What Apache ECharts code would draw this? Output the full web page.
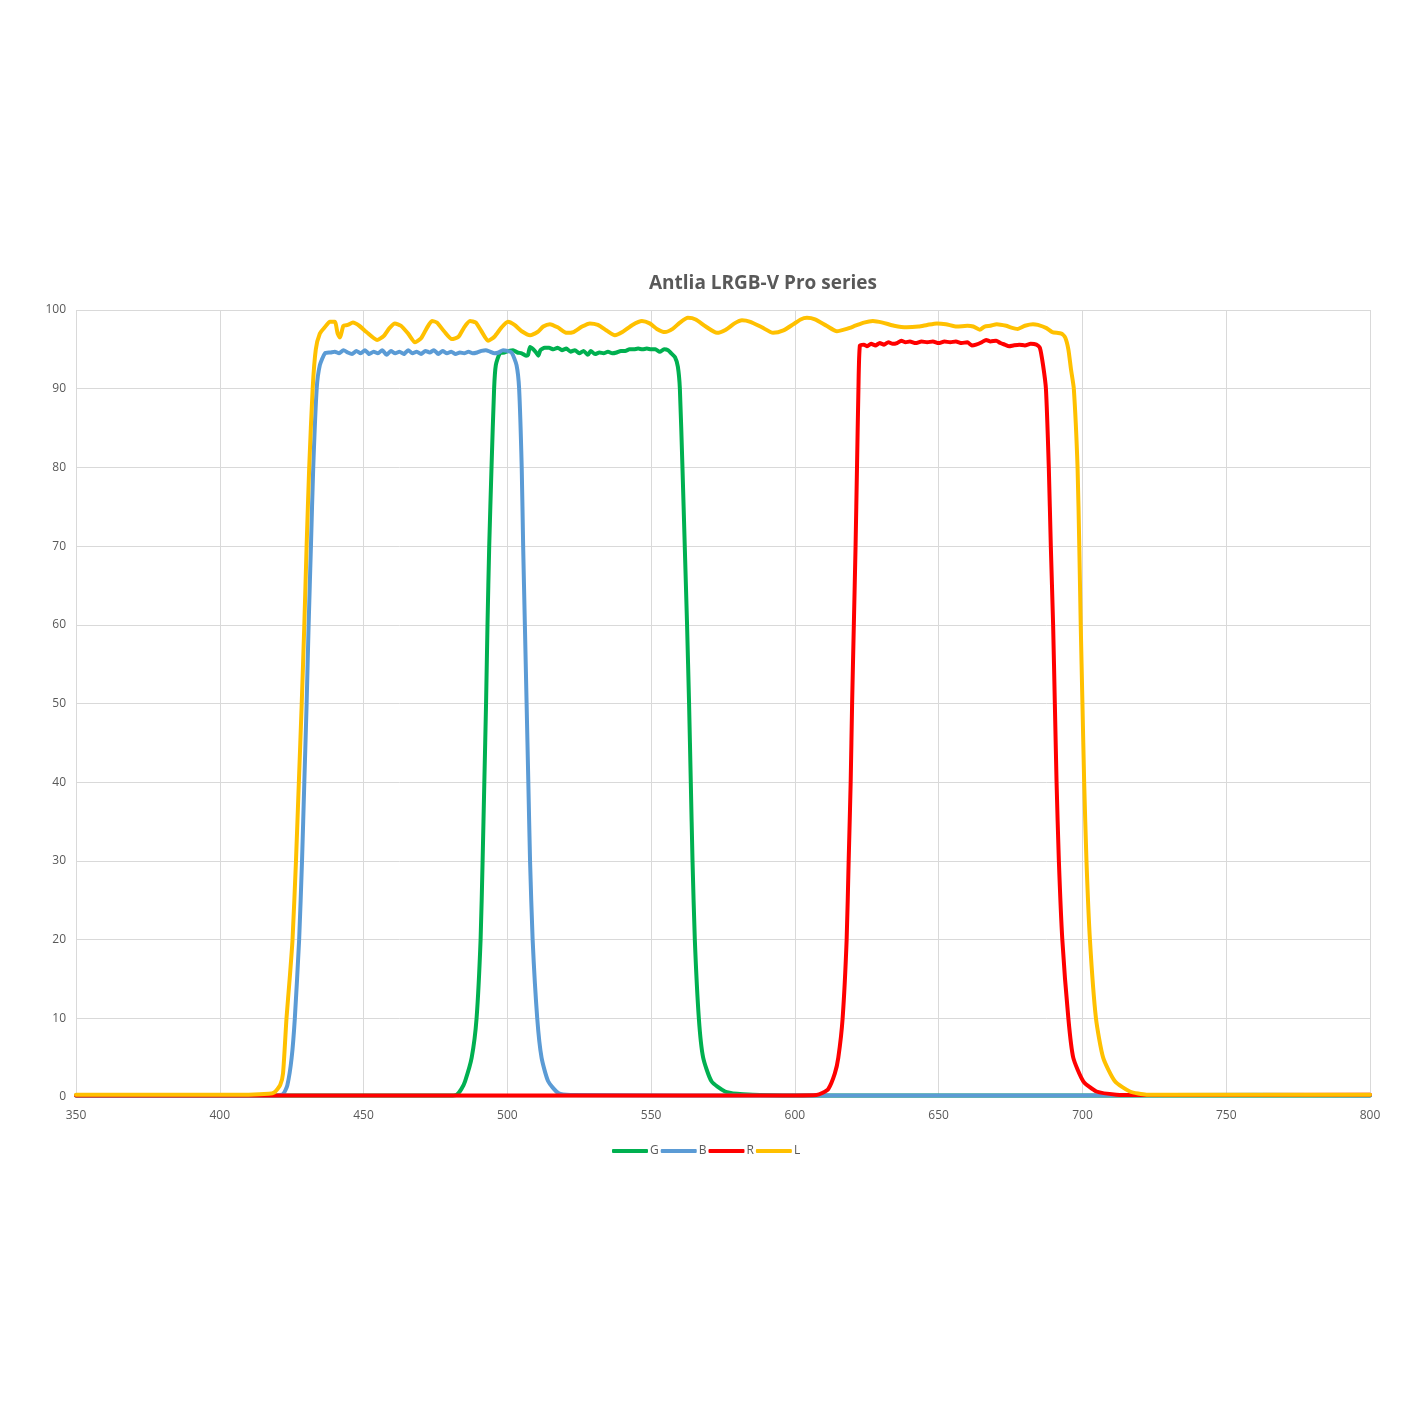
<!DOCTYPE html>
<html>
<head>
<meta charset="utf-8">
<script src="https://cdn.jsdelivr.net/npm/echarts@6/dist/echarts.min.js"></script>
<style>html,body{margin:0;padding:0;background:#fff}#c{width:1422px;height:1422px}</style>
</head>
<body>
<div id="c"></div>
<script>
const seriesNames = ['G', 'B', 'R', 'L'];
const xTicks = [350, 400, 450, 500, 550, 600, 650, 700, 750, 800];
const yTicks = [0, 10, 20, 30, 40, 50, 60, 70, 80, 90, 100];

// G (green)
const gNm = [350, 480, 482.4, 484, 485.3, 487.6, 489.3, 490.7, 491.4, 492, 492.6, 493.1, 493.7, 494.5, 495.4, 496, 497.4,
  499, 500.5, 502, 503.5, 505, 506.5, 507.2, 507.9, 509, 510, 510.8, 511.5, 513, 514.5, 516, 517.5, 519, 520.5, 522, 523.5,
  525, 526.5, 528, 529, 530.5, 532, 533.5, 535, 536.5, 538, 539.5, 541, 542.5, 544, 545.5, 547, 548.5, 550, 551.5, 553,
  554.5, 555.9, 557, 558.3, 559.3, 560, 560.9, 561.7, 562.5, 563.2, 563.8, 564.4, 565.2, 566.6, 568.1, 571, 575.7, 580,
  585.4, 600, 800];
const gVal = [0.2, 0.2, 0.3, 1, 2, 5, 10, 20, 30, 40, 50, 60, 70, 80, 90, 93, 94.5,
  94.6, 94.8, 94.9, 94.6, 94.5, 94.2, 94.3, 95.3, 95.0, 94.6, 94.2, 94.9, 95.2, 95.2, 95.0, 95.2, 94.9, 95.1, 94.7, 94.9,
  94.5, 94.8, 94.3, 94.8, 94.4, 94.6, 94.5, 94.7, 94.5, 94.6, 94.8, 94.8, 95.0, 95.0, 95.1, 95.0, 95.1, 95.0, 95.0, 94.7,
  95.0, 94.9, 94.5, 94.0, 92.8, 90, 80, 70, 60, 50, 40, 30, 20, 10, 5, 2, 0.7, 0.4,
  0.3, 0.2, 0.2];

// B (blue)
const bNm = [350, 420, 422.1, 423.5, 425, 426.1, 427.6, 428.6, 429.4, 430.2, 430.9, 431.7, 432.5, 433.7, 434.8, 436.6, 438.5,
  440, 441.5, 443, 444.5, 446, 447.5, 449, 450.5, 452, 453.5, 455, 456.5, 458, 459.5, 461, 462.5, 464, 465.5, 467, 468.5,
  470, 471.5, 473, 474.5, 476, 477.5, 479, 480.5, 482, 483.5, 485, 486.5, 488, 489.5, 491, 492.5, 494, 495.5, 497, 498.5,
  500, 501.5, 503.2, 504.1, 505, 505.5, 506.1, 506.7, 507.3, 507.9, 508.8, 510.4, 511.9, 514.2, 517.7, 522, 600, 700, 760, 800];
const bVal = [0.2, 0.2, 0.4, 1.5, 5, 10, 20, 30, 40, 50, 60, 70, 80, 90, 93, 94.5, 94.6,
  94.7, 94.5, 94.9, 94.6, 94.4, 94.8, 94.5, 94.9, 94.4, 94.7, 94.5, 94.9, 94.3, 94.8, 94.5, 94.7, 94.4, 94.9, 94.5, 94.7,
  94.4, 94.8, 94.6, 94.9, 94.4, 94.8, 94.5, 94.7, 94.4, 94.6, 94.5, 94.7, 94.5, 94.6, 94.8, 94.9, 94.7, 94.5, 94.6, 94.9,
  94.8, 94.6, 93, 90, 80, 70, 60, 50, 40, 30, 20, 10, 5, 2, 0.5, 0.25, 0.2, 0.2, 0.3, 0.2];

// R (red)
const rNm = [350, 600, 607.5, 609.5, 611.6, 613.9, 615.1, 616.6, 618, 618.7, 619.4, 619.9, 620.5, 621.1, 621.6, 622.1, 622.6,
  624, 625, 626.5, 628, 629.5, 631, 632.5, 634, 635.5, 637, 638.5, 640, 642, 644, 646, 648, 650, 652, 654, 656, 658, 660,
  661.5, 663, 665, 666.5, 668, 670, 671.5, 673, 674.5, 676, 678, 680, 682, 684, 685.2, 686.3, 687.3, 688.3, 689, 689.8,
  690.4, 691, 691.8, 693, 695.1, 696.8, 700.3, 704.9, 711.8, 720, 800];
const rVal = [0.2, 0.2, 0.25, 0.5, 1, 3, 5, 10, 20, 30, 40, 50, 60, 70, 80, 90, 95.5,
  95.6, 95.4, 95.7, 95.5, 95.8, 95.6, 95.9, 95.7, 95.8, 96.1, 95.9, 96.0, 95.8, 96.0, 95.9, 96.0, 95.8, 96.0, 95.9, 96.0, 95.8, 95.9,
  95.5, 95.6, 95.9, 96.2, 96.0, 96.1, 95.8, 95.6, 95.4, 95.5, 95.6, 95.5, 95.7, 95.6, 95.2, 93, 90, 80, 70, 60,
  50, 40, 30, 20, 10, 5, 2, 0.7, 0.3, 0.25, 0.3];

// L (yellow)
const lNm = [350, 380, 410, 417, 419, 421, 422, 423.2, 424.3, 425.3, 426.5, 427.5, 428.5, 429.4, 430.2, 431.1, 432.3, 433.4,
  434.8, 436.5, 438.3, 440, 441, 441.8, 443, 444.5, 446.3, 448.5, 451, 454.7, 457, 459, 460.9, 463, 465.5, 467.9, 470, 472,
  473.8, 475.5, 478, 480.7, 483, 485, 487, 489, 491, 493.3, 495.5, 498, 500.2, 502.5, 505, 507.9, 510.5, 512.5, 514.8,
  517.5, 520.7, 523, 526, 528.7, 531.5, 534.5, 537.4, 540, 543.5, 546.8, 549.5, 552, 554.8, 557.5, 560, 562.8, 565.5,
  569, 572.9, 576, 579, 581.6, 584.5, 588.5, 592.4, 596, 599.5, 602, 604.2, 607, 611, 614.6, 618, 621, 624, 627.1, 630.5,
  634.5, 638.9, 643, 646, 649.4, 652.5, 656.3, 660, 662, 664.3, 666, 668, 670.2, 673.5, 675, 677.5, 680, 682.8, 684.5,
  687.5, 689.5, 692.7, 694, 695.1, 696, 697, 698.3, 698.9, 699.4, 700, 700.6, 701.4, 702.6, 704.7, 707.2, 711.3, 716.5,
  722.3, 760, 800];
const lVal = [0.3, 0.3, 0.3, 0.4, 0.6, 1.5, 3, 10, 15, 20, 30, 40, 50, 60, 70, 80, 90, 95,
  97, 97.8, 98.5, 98.5, 97, 96.5, 98, 98.1, 98.4, 98, 97.2, 96.2, 96.7, 97.7, 98.3, 98, 97, 95.9, 96.4, 97.7,
  98.6, 98.4, 97.3, 96.3, 96.6, 97.8, 98.6, 98.4, 97.3, 96.1, 96.6, 97.8, 98.5, 98.1, 97.3, 96.8, 97.2, 97.9, 98.2,
  97.8, 97.1, 97.2, 97.9, 98.3, 98.1, 97.4, 96.8, 97.2, 98.1, 98.6, 98.3, 97.6, 97.2, 97.6, 98.4, 99.0, 98.8,
  97.9, 97.1, 97.5, 98.3, 98.7, 98.5, 97.8, 97.1, 97.4, 98.2, 98.8, 99.0, 98.8, 98.0, 97.3, 97.6, 98.0, 98.4, 98.6, 98.4,
  98.0, 97.8, 97.9, 98.1, 98.3, 98.2, 97.9, 98.0, 97.9, 97.5, 97.9, 98.0, 98.2, 98.0, 97.8, 97.6, 98.0, 98.2, 98.1,
  97.7, 97.2, 97.0, 96.5, 95, 92.5, 90, 80, 70, 60, 50, 40, 30, 20, 10, 5, 2, 0.7,
  0.3, 0.3, 0.3];

const colors = ['#00b050', '#5b9bd5', '#ff0000', '#ffc000'];
const nmArrays = [gNm, bNm, rNm, lNm];
const valArrays = [gVal, bVal, rVal, lVal];

const chart = echarts.init(document.getElementById('c'), null, {renderer: 'canvas'});
const txt = '#595959';
const grid = '#d9d9d9';
chart.setOption({
  animation: false,
  backgroundColor: '#fff',
  title: {
    text: 'Antlia LRGB-V Pro series',
    left: 758, top: 269, textAlign: 'center',
    textStyle: {fontFamily: 'Open Sans', fontSize: 19, fontWeight: 'bold', color: txt}
  },
  legend: {
    data: seriesNames,
    left: 607, top: 1140,
    icon: 'roundRect', itemWidth: 36, itemHeight: 4, itemGap: 2,
    textStyle: {fontFamily: 'Open Sans', fontSize: 12, color: txt, padding: [0, 0, 0, -3]}
  },
  grid: {left: 76, right: 52, top: 310, bottom: 325, containLabel: false},
  xAxis: {
    type: 'value', min: xTicks[0], max: xTicks[xTicks.length - 1], interval: 50,
    axisLine: {show: true, lineStyle: {color: grid, width: 1}},
    axisTick: {show: false},
    axisLabel: {color: txt, fontFamily: 'Open Sans', fontSize: 12, margin: 13},
    splitLine: {show: true, lineStyle: {color: grid, width: 1}}
  },
  yAxis: {
    type: 'value', min: yTicks[0], max: yTicks[yTicks.length - 1], interval: 10,
    axisLine: {show: false},
    axisTick: {show: false},
    axisLabel: {color: txt, fontFamily: 'Open Sans', fontSize: 12, margin: 10},
    splitLine: {show: true, lineStyle: {color: grid, width: 1}}
  },
  series: seriesNames.map((n, i) => ({
    name: n,
    type: 'line',
    data: nmArrays[i].map((x, j) => [x, valArrays[i][j]]),
    showSymbol: false,
    symbol: 'none',
    smooth: 0.2,
    color: colors[i],
    lineStyle: {width: 4, color: colors[i], cap: 'round', join: 'round'}
  }))
});
</script>
</body>
</html>
